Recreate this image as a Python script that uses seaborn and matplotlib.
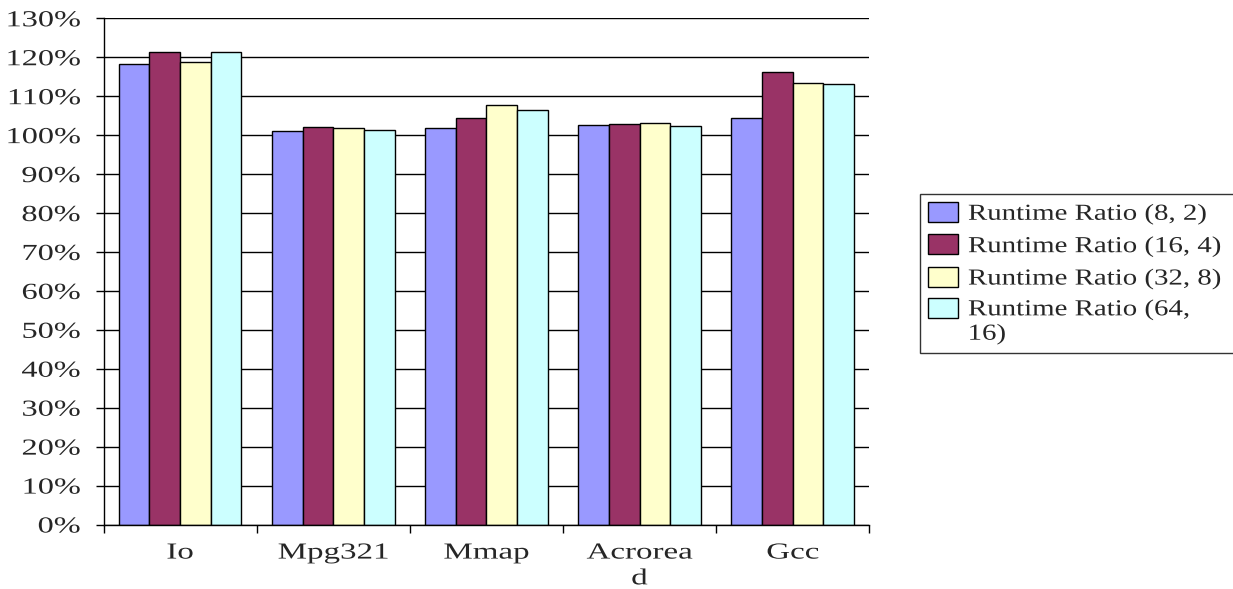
import matplotlib
matplotlib.use("Agg")
import matplotlib.pyplot as plt
import matplotlib.ticker as mticker
from matplotlib.patheffects import AbstractPathEffect
from matplotlib.transforms import Affine2D
import numpy as np
import pandas as pd
import seaborn as sns

# Benchmarks and runtime ratios (percent) for each configuration
categories = ["Io", "Mpg321", "Mmap", "Acrorea\nd", "Gcc"]
series_names = ["Runtime Ratio (8, 2)", "Runtime Ratio (16, 4)",
                "Runtime Ratio (32, 8)", "Runtime Ratio (64,\n16)"]
ratio_8_2 = [118.3, 101.0, 101.7, 102.7, 104.5]
ratio_16_4 = [121.3, 102.1, 104.3, 102.9, 116.1]
ratio_32_8 = [118.7, 101.8, 107.7, 103.2, 113.5]
ratio_64_16 = [121.4, 101.3, 106.5, 102.3, 113.1]
colors = ["#9999FF", "#993366", "#FFFFCC", "#CCFFFF"]

rows = []
for name, vals in zip(series_names, [ratio_8_2, ratio_16_4, ratio_32_8, ratio_64_16]):
    for cat, v in zip(categories, vals):
        rows.append({"Benchmark": cat, "Series": name, "Ratio": v})
df = pd.DataFrame(rows)


class Widen(AbstractPathEffect):
    """Draw glyphs horizontally widened about a left/center/right anchor."""

    def __init__(self, sx, anchor="center"):
        super().__init__()
        self.sx = sx
        self.anchor = anchor

    def draw_path(self, renderer, gc, tpath, affine, rgbFace=None):
        ext = tpath.get_extents(affine)
        if self.anchor == "left":
            x0 = ext.x0
        elif self.anchor == "right":
            x0 = ext.x1
        else:
            x0 = 0.5 * (ext.x0 + ext.x1)
        t = affine + Affine2D().translate(-x0, 0).scale(self.sx, 1).translate(x0, 0)
        renderer.draw_path(gc, tpath, t, rgbFace)


sns.set_theme(style="white")
plt.rcParams["font.family"] = ["Liberation Serif", "DejaVu Serif"]

W, H = 1233, 589
fig = plt.figure(figsize=(W / 100, H / 100), dpi=100)
left, right, top, bottom = 103.5, 869.3, 18.3, 524.5
ax = fig.add_axes([left / W, 1 - bottom / H, (right - left) / W, (bottom - top) / H])

sns.barplot(data=df, x="Benchmark", y="Ratio", hue="Series", order=categories,
            hue_order=series_names, palette=colors, width=0.8,
            edgecolor="black", linewidth=1.0, saturation=1, ax=ax, legend=True)

ax.set_ylim(0, 130)
ax.set_xlim(-0.5, len(categories) - 0.5)
ax.yaxis.set_major_locator(mticker.MultipleLocator(10))
ax.yaxis.set_major_formatter(mticker.FuncFormatter(lambda v, p: f"{int(round(v))}%"))
ax.yaxis.grid(True, color="black", linewidth=1.0)
ax.set_axisbelow(True)

for s in ["top", "right"]:
    ax.spines[s].set_visible(False)
for s in ["left", "bottom"]:
    ax.spines[s].set_color("black")
    ax.spines[s].set_linewidth(1.0)

ax.set_xlabel("")
ax.set_ylabel("")
ax.tick_params(axis="y", which="major", left=True, length=5.8, width=1,
               color="black", direction="out", labelsize=16.5, pad=11.0)
ax.set_xticks(np.arange(len(categories)))
ax.set_xticklabels(categories, fontsize=16.5, linespacing=1.3)
ax.set_xticks(np.arange(len(categories) + 1) - 0.5, minor=True)
ax.tick_params(axis="x", which="major", bottom=False, length=0, pad=13)
ax.tick_params(axis="x", which="minor", bottom=True, length=5.8, width=1,
               color="black", direction="out")

for lab in ax.get_yticklabels():
    lab.set_path_effects([Widen(1.41, "right")])
for lab in ax.get_xticklabels():
    lab.set_path_effects([Widen(1.44, "center")])

handles, labels = ax.get_legend_handles_labels()
ax.get_legend().remove()
leg_x0 = 920 / W
leg_top = 1 - 194 / H
leg = fig.legend(handles, labels, loc="upper left",
                 bbox_to_anchor=(leg_x0, leg_top - 0.3, 1.05 - leg_x0, 0.3),
                 mode="expand", frameon=True, fancybox=False, fontsize=16.5,
                 handlelength=1.3, handleheight=0.95, handletextpad=0.45,
                 labelspacing=0.42, borderpad=0.35, borderaxespad=0)
leg.get_frame().set_edgecolor("black")
leg.get_frame().set_linewidth(1.0)
for t in leg.get_texts():
    t.set_path_effects([Widen(1.26, "left")])

# The wrapped last entry keeps its swatch level with the first line of text
last = leg.legend_handles[-1]
line_pt = 16.5 * 1.2
last.set_y(last.get_y() + line_pt / 2)

fig.savefig("out.png", dpi=100)
